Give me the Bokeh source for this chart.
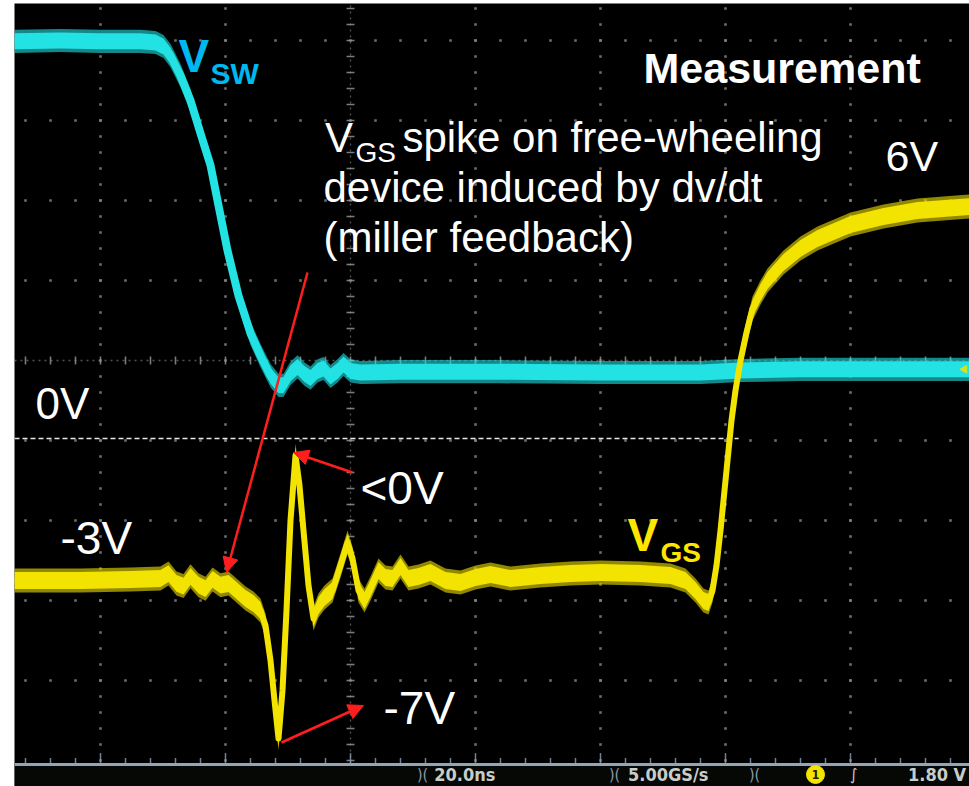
import numpy as np
from bokeh.plotting import figure
from bokeh.models import Range1d, Label, Arrow, NormalHead
from bokeh.embed import file_html
from bokeh.resources import INLINE

# ---------------- data read from the scope capture ----------------
NS_PER_DIV = 20.0        # horizontal scale: 20.0 ns/div
V_PER_DIV = 1.8          # VGS channel: 1.80 V/div
VGS_ZERO_DIV = -0.975    # VGS ground level (screen divisions)
T_MIN, T_MAX = -53.76, 99.04      # visible time window (ns)
Y_MIN, Y_MAX = -5.325, 4.4625     # visible screen window (div), incl. status bar
SCREEN_BOTTOM = -5.0375           # bottom edge of the graticule (div)

# switch-node voltage V_SW (screen divisions)
vsw_t = [-53.76, -46.4, -40.0, -33.6, -31.2, -29.92, -28.8, -27.2, -25.6, -24.0,
         -22.4, -21.28, -19.68, -17.92, -16.0, -14.4, -12.8, -11.52, -10.72, -9.6,
         -8.48, -7.36, -6.4, -5.28, -4.32, -3.2, -2.08, -1.12, 0.0, 1.6,
         8.0, 24.0, 40.0, 56.0, 62.4, 72.0, 88.0, 99.04]
vsw_div = [3.99, 4.0, 3.99, 3.99, 3.975, 3.925, 3.81, 3.56, 3.25, 2.84,
           2.44, 2.0, 1.375, 0.81, 0.34, 0.06, -0.19, -0.31, -0.31, -0.16,
           -0.08, -0.17, -0.22, -0.13, -0.1, -0.2, -0.13, -0.05, -0.13, -0.15,
           -0.14, -0.14, -0.15, -0.15, -0.125, -0.11, -0.11, -0.11]

# gate-source voltage V_GS of the free-wheeling device (volts)
vgs_t = [-53.76, -43.2, -35.2, -30.4, -29.12, -27.84, -26.72, -25.6, -24.32, -23.2,
         -22.08, -20.8, -19.52, -18.24, -16.8, -15.52, -14.4, -13.6, -12.8, -12.16,
         -11.52, -10.88, -10.24, -9.6, -8.8, -8.16, -7.52, -6.72, -5.92, -5.12,
         -4.16, -2.88, -1.6, -0.48, 0.32, 1.28, 2.24, 3.2, 4.48, 5.6,
         6.72, 8.0, 9.28, 10.88, 12.8, 15.2, 17.6, 20.0, 22.4, 25.6,
         30.4, 35.2, 40.0, 46.4, 51.2, 53.6, 55.2, 56.48, 57.28, 57.92,
         58.56, 59.2, 59.84, 60.48, 60.96, 61.6, 62.4, 63.36, 64.32, 65.6,
         66.72, 69.28, 72.0, 74.72, 80.0, 85.28, 90.72, 99.04]
vgs_v = [-3.195, -3.195, -3.1725, -3.15, -3.04, -3.26, -3.32, -3.1, -3.3, -3.38,
         -3.17, -3.3, -3.2625, -3.42, -3.6, -3.7125, -3.87, -4.2075, -4.995, -5.895,
         -6.75, -5.67, -3.87, -1.845, -0.3825, -1.0575, -2.07, -3.3075, -4.05, -3.7575,
         -3.5775, -3.42, -2.8575, -2.34, -2.7, -3.42, -3.645, -3.375, -2.97, -3.1275,
         -3.15, -2.88, -3.15, -3.105, -3.015, -3.195, -3.24, -3.1275, -3.06, -3.15,
         -3.0825, -3.0375, -3.015, -3.0375, -3.0825, -3.195, -3.42, -3.645, -3.69, -3.42,
         -2.8575, -2.07, -1.17, -0.27, 0.405, 1.08, 1.755, 2.385, 2.925, 3.285,
         3.555, 3.96, 4.275, 4.5, 4.815, 4.995, 5.13, 5.22]

ZERO_LINE_END_NS = 62.1   # the dashed 0 V marker stops at the VGS rising edge

status_texts = ["20.0ns", "5.00GS/s", "1.80 V"]

# ---------------- colours / fonts ----------------
CYAN = "#22E2E4"
YELLOW = "#F2E300"
LBL_CYAN = "#00B8F0"
LBL_YELLOW = "#FFE600"
RED = "#FF1E1E"
FONT = "Liberation Sans"
SFONT = "DejaVu Sans Condensed"
PX_PER_DIV = 80.0
BASELINE_FIX = 0.385     # Label alphabetic-baseline correction (fraction of font size)

vsw_t = np.array(vsw_t)
vsw_d = np.array(vsw_div)
vgs_tt = np.array(vgs_t)
vgs_d = np.array(vgs_v) / V_PER_DIV + VGS_ZERO_DIV

p = figure(width=969, height=786,
           x_range=Range1d(T_MIN, T_MAX), y_range=Range1d(Y_MIN, Y_MAX),
           output_backend="svg", toolbar_location=None,
           x_axis_location=None, y_axis_location=None,
           min_border_left=14, min_border_right=0, min_border_top=3, min_border_bottom=0,
           background_fill_color="black", border_fill_color="white",
           outline_line_color=None)
p.grid.grid_line_color = None

# ---------------- graticule (dotted, dots at every minor division) ----------------
major_t = np.arange(-40, 100, NS_PER_DIV)
major_d = np.arange(-4, 5)
minor_t = np.arange(-52, 99, NS_PER_DIV / 5)
minor_d = np.arange(-5.0, 4.41, 0.2)
mt = major_t[major_t != 0]
md = major_d[major_d != 0]
gx = np.concatenate([np.repeat(mt, len(minor_d)), np.tile(minor_t, len(md))])
gy = np.concatenate([np.tile(minor_d, len(mt)), np.repeat(md, len(minor_t))])
p.scatter(x=gx, y=gy, marker="square", size=2.6, color="#8a8a8a", alpha=0.8, line_color=None)

# centre cross with minor ticks
p.segment(x0=[0], y0=[SCREEN_BOTTOM], x1=[0], y1=[Y_MAX], line_color="#8a8a8a",
          line_alpha=0.6, line_width=1.3, line_dash="2 4")
p.segment(x0=[T_MIN], y0=[0], x1=[T_MAX], y1=[0], line_color="#8a8a8a",
          line_alpha=0.6, line_width=1.3, line_dash="2 4")
p.segment(x0=np.full_like(minor_d, -0.64), y0=minor_d, x1=np.full_like(minor_d, 0.64), y1=minor_d,
          line_color="#9a9a9a", line_alpha=0.8, line_width=1.6)
p.segment(x0=minor_t, y0=np.full_like(minor_t, -0.05), x1=minor_t, y1=np.full_like(minor_t, 0.05),
          line_color="#9a9a9a", line_alpha=0.8, line_width=1.6)
# bottom edge ticks
is_major = np.isclose(np.mod(minor_t, NS_PER_DIV), 0)
p.segment(x0=minor_t, y0=np.full_like(minor_t, SCREEN_BOTTOM), x1=minor_t,
          y1=np.where(is_major, SCREEN_BOTTOM + 0.13, SCREEN_BOTTOM + 0.07),
          line_color="#8fa4b8", line_alpha=0.8, line_width=1.5)

# ---------------- VGS 0 V marker ----------------
p.line([T_MIN, ZERO_LINE_END_NS], [VGS_ZERO_DIV, VGS_ZERO_DIV], line_color="#e6e6e6",
       line_width=1.5, line_dash="5 3")

# ---------------- traces (noisy bands) ----------------
p.varea(x=vsw_t, y1=vsw_d - 0.145, y2=vsw_d + 0.145, fill_color=CYAN, fill_alpha=0.6)
p.varea(x=vsw_t, y1=vsw_d - 0.1, y2=vsw_d + 0.1, fill_color=CYAN, fill_alpha=1.0)
p.line(vsw_t, vsw_d, line_color=CYAN, line_width=8, line_join="round")

p.varea(x=vgs_tt, y1=vgs_d - 0.15, y2=vgs_d + 0.15, fill_color=YELLOW, fill_alpha=0.6)
p.varea(x=vgs_tt, y1=vgs_d - 0.105, y2=vgs_d + 0.105, fill_color=YELLOW, fill_alpha=1.0)
p.line(vgs_tt, vgs_d, line_color=YELLOW, line_width=6, line_join="round")

# trigger-level marker at right edge
p.scatter(x=[T_MAX - 0.8], y=[vsw_d[-1]], marker="triangle", angle=np.pi / 2,
          size=8, color="#d8e020")

# ---------------- status bar ----------------
p.quad(left=[T_MIN], right=[T_MAX], bottom=[Y_MIN], top=[SCREEN_BOTTOM],
       fill_color="#050805", line_color=None)
p.segment(x0=[T_MIN], y0=[SCREEN_BOTTOM - 0.012], x1=[T_MAX], y1=[SCREEN_BOTTOM - 0.012],
          line_color="#93a5b6", line_width=3)
SB_Y = -5.175
for bx in (11.52, 42.24, 64.64):
    p.add_layout(Label(x=bx, y=SB_Y, text=")(", text_align="center", text_baseline="middle",
                       text_font=SFONT, text_font_size="16px", text_color="#8c99a6"))
for sx, txt, al in ((13.4, status_texts[0], "left"), (44.4, status_texts[1], "left"),
                    (98.5, status_texts[2], "right")):
    p.add_layout(Label(x=sx, y=SB_Y, text=txt, text_align=al, text_baseline="middle",
                       text_font=SFONT, text_font_size="18px", text_font_style="bold",
                       text_color="#c9cdc9"))
p.scatter(x=[74.4], y=[SB_Y], marker="circle", size=18, color="#f5e400")
p.add_layout(Label(x=74.4, y=SB_Y, text="1", text_align="center", text_baseline="middle",
                   text_font=SFONT, text_font_size="12px", text_font_style="bold",
                   text_color="#202000"))
p.add_layout(Label(x=80.5, y=SB_Y, text="\u222b", text_align="center", text_baseline="middle",
                   text_font=SFONT, text_font_size="16px", text_color="#d0d0d0"))

# ---------------- annotations ----------------
def lab(x, y, text, size, color="white", bold=False):
    """Place text with its baseline at (x, y) in data units; size in px."""
    p.add_layout(Label(x=x, y=y + BASELINE_FIX * size / PX_PER_DIV, text=text,
                       text_font=FONT, text_font_size=f"{size}px",
                       text_color=color, text_font_style="bold" if bold else "normal",
                       text_align="left", text_baseline="alphabetic"))

lab(-27.52, 3.5875, "V", 46, LBL_CYAN, True)
lab(-22.4, 3.4375, "SW", 30, LBL_CYAN, True)
lab(44.32, -2.4, "V", 46, LBL_YELLOW, True)
lab(49.6, -2.5375, "GS", 28, LBL_YELLOW, True)

lab(46.88, 3.45, "Measurement", 43, bold=True)

lab(-4.1, 2.5875, "V", 42)
lab(0.8, 2.4625, "GS", 28)
lab(8.3, 2.5875, "spike on free-wheeling", 42)
lab(-4.32, 1.9625, "device induced by dv/dt", 42)
lab(-4.32, 1.3375, "(miller feedback)", 42)

lab(85.6, 2.35, "6V", 43)
lab(-50.4, -0.75, "0V", 44)
lab(-46.4, -2.4375, "-3V", 46)
lab(1.6, -1.8125, "<0V", 46)
lab(5.28, -4.5625, "-7V", 46)

for xs, ys, xe, ye in [(-6.88, 1.1, -19.84, -2.65),
                       (0.32, -1.4, -9.12, -1.15),
                       (-11.04, -4.775, 2.08, -4.3125)]:
    p.add_layout(Arrow(end=NormalHead(size=15, fill_color=RED, line_color=RED, line_width=1),
                       x_start=xs, y_start=ys, x_end=xe, y_end=ye,
                       line_color=RED, line_width=2.5))

open("out.html", "w").write(file_html(p, INLINE))
